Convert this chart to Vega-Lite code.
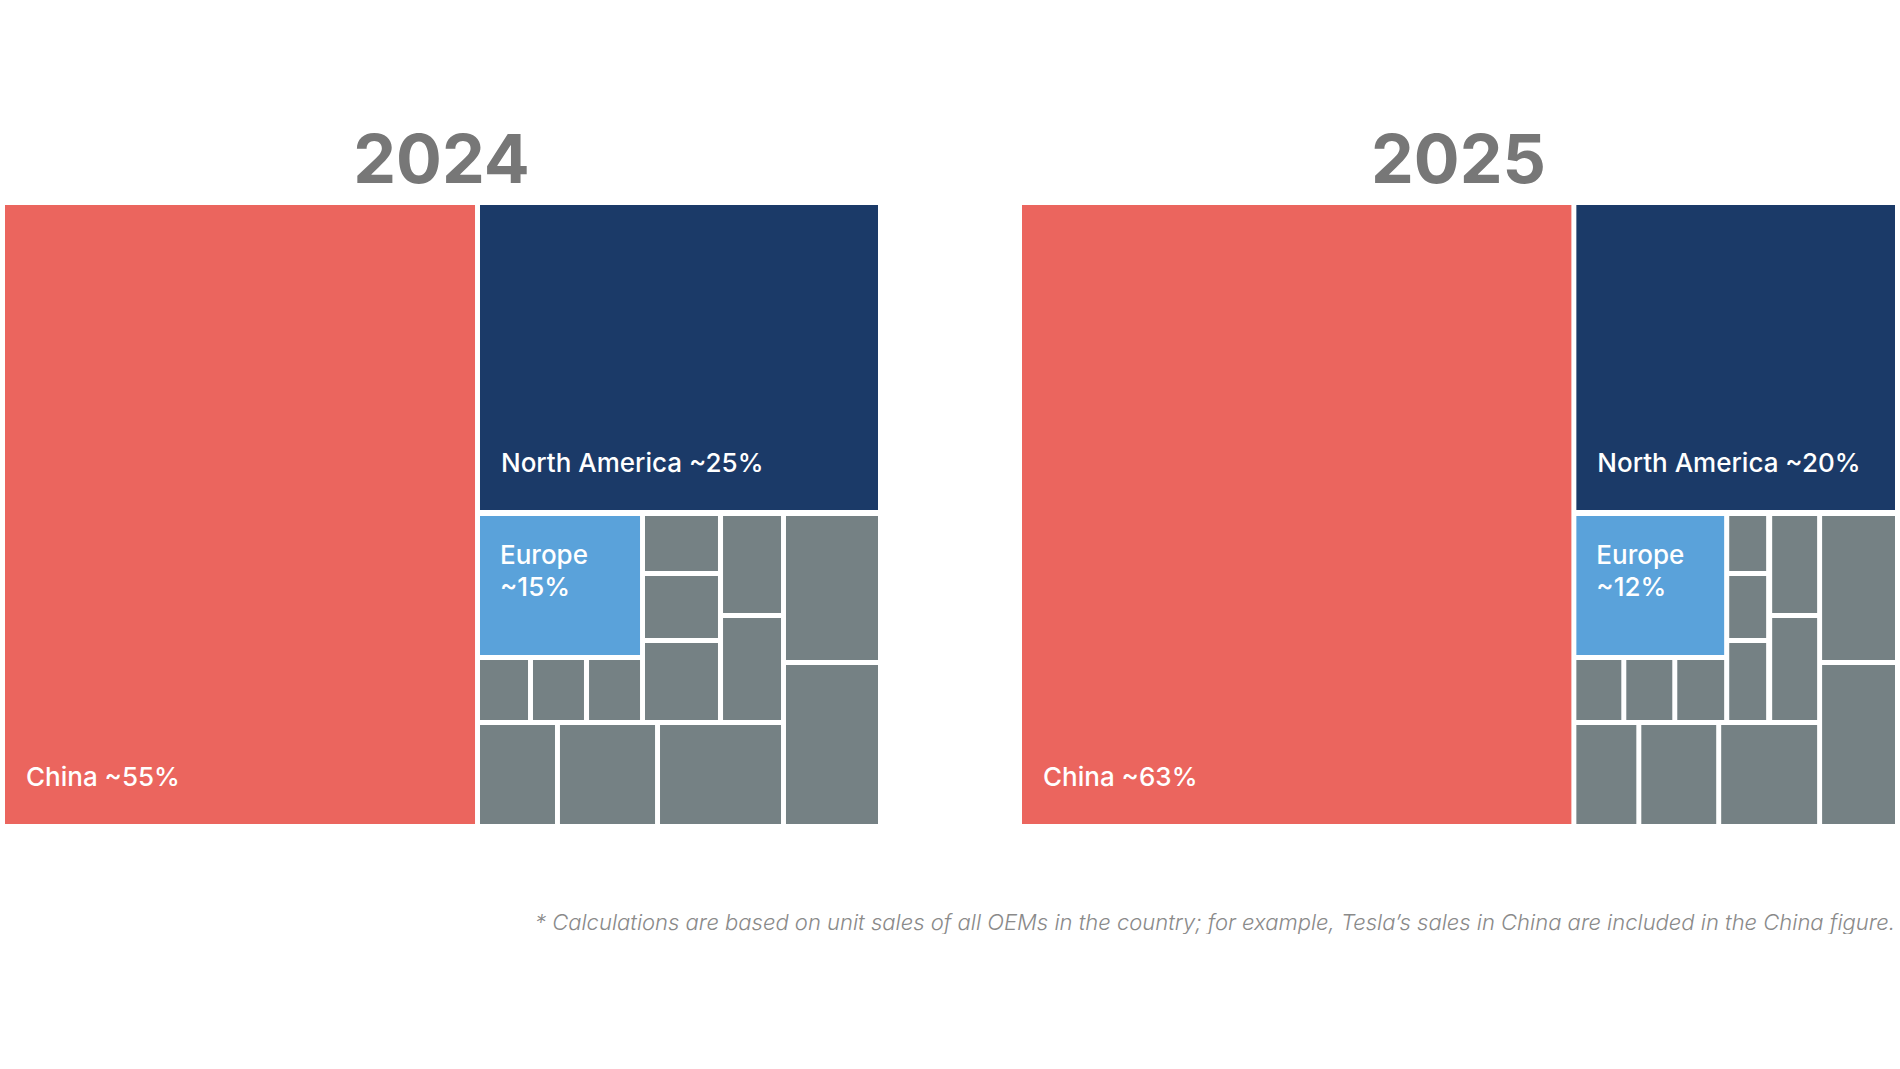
{
  "$schema": "https://vega.github.io/schema/vega-lite/v6.json",
  "background": "white",
  "autosize": {"type": "pad"},
  "padding": {"left": 5, "top": 129, "right": 0, "bottom": 0},
  "data": {
    "values": [
      {"year": "2024", "region": "China", "label": "China ~55%", "share": 55, "x0": 0, "x1": 53.84, "y0": 0, "y1": 100},
      {"year": "2024", "region": "North America", "label": "North America ~25%", "share": 25, "x0": 54.41, "x1": 100, "y0": 0, "y1": 49.27},
      {"year": "2024", "region": "Europe", "label": "Europe\n~15%", "share": 15, "x0": 54.41, "x1": 72.74, "y0": 50.24, "y1": 72.7},
      {"year": "2024", "region": "Other", "x0": 73.31, "x1": 81.67, "y0": 50.24, "y1": 59.13},
      {"year": "2024", "region": "Other", "x0": 73.31, "x1": 81.67, "y0": 59.94, "y1": 69.95},
      {"year": "2024", "region": "Other", "x0": 73.31, "x1": 81.67, "y0": 70.76, "y1": 83.2},
      {"year": "2024", "region": "Other", "x0": 82.25, "x1": 88.89, "y0": 50.24, "y1": 65.91},
      {"year": "2024", "region": "Other", "x0": 82.25, "x1": 88.89, "y0": 66.72, "y1": 83.2},
      {"year": "2024", "region": "Other", "x0": 89.46, "x1": 100, "y0": 50.24, "y1": 73.5},
      {"year": "2024", "region": "Other", "x0": 89.46, "x1": 100, "y0": 74.31, "y1": 100},
      {"year": "2024", "region": "Other", "x0": 54.41, "x1": 59.91, "y0": 73.5, "y1": 83.2},
      {"year": "2024", "region": "Other", "x0": 60.48, "x1": 66.32, "y0": 73.5, "y1": 83.2},
      {"year": "2024", "region": "Other", "x0": 66.9, "x1": 72.74, "y0": 73.5, "y1": 83.2},
      {"year": "2024", "region": "Other", "x0": 54.41, "x1": 63.0, "y0": 84.01, "y1": 100},
      {"year": "2024", "region": "Other", "x0": 63.57, "x1": 74.46, "y0": 84.01, "y1": 100},
      {"year": "2024", "region": "Other", "x0": 75.03, "x1": 88.89, "y0": 84.01, "y1": 100},
      {"year": "2025", "region": "China", "label": "China ~63%", "share": 63, "x0": 0, "x1": 62.93, "y0": 0, "y1": 100},
      {"year": "2025", "region": "North America", "label": "North America ~20%", "share": 20, "x0": 63.5, "x1": 100, "y0": 0, "y1": 49.27},
      {"year": "2025", "region": "Europe", "label": "Europe\n~12%", "share": 12, "x0": 63.5, "x1": 80.43, "y0": 50.24, "y1": 72.7},
      {"year": "2025", "region": "Other", "x0": 81.01, "x1": 85.24, "y0": 50.24, "y1": 59.13},
      {"year": "2025", "region": "Other", "x0": 81.01, "x1": 85.24, "y0": 59.94, "y1": 69.95},
      {"year": "2025", "region": "Other", "x0": 81.01, "x1": 85.24, "y0": 70.76, "y1": 83.2},
      {"year": "2025", "region": "Other", "x0": 85.93, "x1": 91.08, "y0": 50.24, "y1": 65.91},
      {"year": "2025", "region": "Other", "x0": 85.93, "x1": 91.08, "y0": 66.72, "y1": 83.2},
      {"year": "2025", "region": "Other", "x0": 91.65, "x1": 100, "y0": 50.24, "y1": 73.5},
      {"year": "2025", "region": "Other", "x0": 91.65, "x1": 100, "y0": 74.31, "y1": 100},
      {"year": "2025", "region": "Other", "x0": 63.5, "x1": 68.65, "y0": 73.5, "y1": 83.2},
      {"year": "2025", "region": "Other", "x0": 69.22, "x1": 74.49, "y0": 73.5, "y1": 83.2},
      {"year": "2025", "region": "Other", "x0": 75.06, "x1": 80.43, "y0": 73.5, "y1": 83.2},
      {"year": "2025", "region": "Other", "x0": 63.5, "x1": 70.37, "y0": 84.01, "y1": 100},
      {"year": "2025", "region": "Other", "x0": 70.94, "x1": 79.52, "y0": 84.01, "y1": 100},
      {"year": "2025", "region": "Other", "x0": 80.09, "x1": 91.08, "y0": 84.01, "y1": 100}
    ]
  },
  "facet": {
    "column": {
      "field": "year",
      "type": "nominal",
      "title": "* Calculations are based on unit sales of all OEMs in the country; for example, Tesla’s sales in China are included in the China figure.",
      "header": {
        "labelFont": "Inter",
        "labelFontSize": 68,
        "labelFontWeight": "bold",
        "labelColor": "#777777",
        "labelPadding": 8,
        "titleOrient": "bottom",
        "titleAnchor": "end",
        "titleFont": "Inter",
        "titleFontSize": 22,
        "titleFontStyle": "italic",
        "titleFontWeight": 300,
        "titleColor": "#8a8a8a",
        "titleBaseline": "alphabetic",
        "titlePadding": 96
      }
    }
  },
  "spacing": 144,
  "spec": {
    "width": 873,
    "height": 619,
    "layer": [
      {
        "mark": {"type": "rect"},
        "encoding": {
          "x": {"field": "x0", "type": "quantitative", "scale": {"domain": [0, 100], "nice": false, "zero": false}, "axis": null},
          "x2": {"field": "x1"},
          "y": {"field": "y0", "type": "quantitative", "scale": {"domain": [0, 100], "nice": false, "zero": false, "reverse": true}, "axis": null},
          "y2": {"field": "y1"},
          "color": {
            "field": "region",
            "type": "nominal",
            "scale": {
              "domain": ["China", "North America", "Europe", "Other"],
              "range": ["#EB655E", "#1B3A68", "#5AA2DA", "#758184"]
            },
            "legend": null
          }
        }
      },
      {
        "transform": [{"filter": "datum.region === 'China' || datum.region === 'North America'"}],
        "mark": {"type": "text", "align": "left", "baseline": "alphabetic", "dx": 21, "dy": -38, "font": "Inter", "fontSize": 26, "fontWeight": 500, "fill": "#ffffff"},
        "encoding": {
          "x": {"field": "x0", "type": "quantitative"},
          "y": {"field": "y1", "type": "quantitative"},
          "text": {"field": "label"}
        }
      },
      {
        "transform": [{"filter": "datum.region === 'Europe'"}],
        "mark": {"type": "text", "align": "left", "baseline": "alphabetic", "dx": 20, "dy": 48, "lineBreak": "\n", "lineHeight": 32, "font": "Inter", "fontSize": 26, "fontWeight": 500, "fill": "#ffffff"},
        "encoding": {
          "x": {"field": "x0", "type": "quantitative"},
          "y": {"field": "y0", "type": "quantitative"},
          "text": {"field": "label"}
        }
      }
    ]
  },
  "config": {"view": {"stroke": null}}
}
